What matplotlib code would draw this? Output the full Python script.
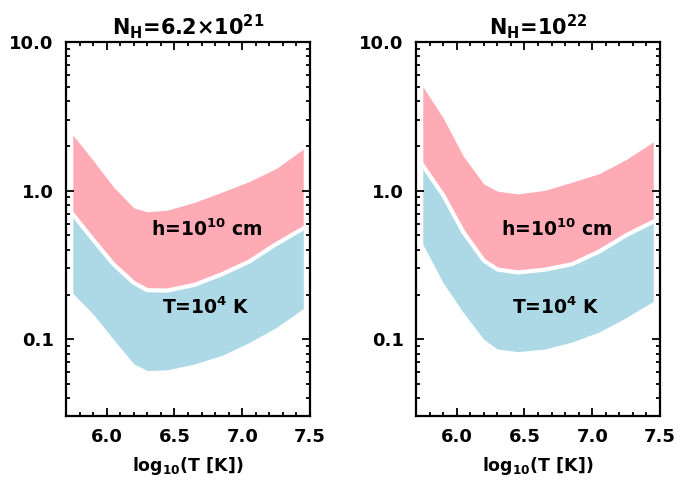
import numpy as np
import matplotlib
matplotlib.use('Agg')
from matplotlib import pyplot as plt
from matplotlib.ticker import MultipleLocator, LogLocator, NullFormatter

plt.rcParams['font.weight'] = 'bold'
plt.rcParams['axes.titleweight'] = 'bold'
plt.rcParams['axes.labelweight'] = 'bold'
plt.rcParams['mathtext.fontset'] = 'custom'
plt.rcParams['mathtext.rm'] = 'DejaVu Sans:bold'
plt.rcParams['mathtext.it'] = 'DejaVu Sans:bold'
plt.rcParams['mathtext.bf'] = 'DejaVu Sans:bold'
plt.rcParams['mathtext.default'] = 'rm'

# common temperature grid, log10(T [K])
logT = [5.75, 5.9, 6.05, 6.2, 6.3, 6.45, 6.65, 6.85, 7.05, 7.25, 7.45]

# N_H = 6.2e21 panel
left_h_top = [2.37, 1.60, 1.06, 0.766, 0.721, 0.740, 0.836, 0.977, 1.15, 1.41, 1.90]
left_mid = [0.692, 0.468, 0.320, 0.240, 0.214, 0.213, 0.233, 0.274, 0.333, 0.437, 0.557]
left_T_bot = [0.204, 0.148, 0.100, 0.0684, 0.0617, 0.0624, 0.0684, 0.078, 0.095, 0.120, 0.161]

# N_H = 1e22 panel
right_h_top = [5.01, 3.09, 1.70, 1.11, 0.993, 0.951, 1.005, 1.14, 1.30, 1.62, 2.13]
right_mid = [1.48, 0.933, 0.525, 0.339, 0.295, 0.282, 0.294, 0.320, 0.389, 0.501, 0.618]
right_T_bot = [0.437, 0.240, 0.151, 0.100, 0.0861, 0.0826, 0.0861, 0.0959, 0.112, 0.140, 0.180]

titles = [r'N$_{\rm H}$=6.2×10$^{21}$', r'N$_{\rm H}$=10$^{22}$']
label_h = r'h=10$^{10}$ cm'
label_T = r'T=10$^4$ K'

pink = '#ffabb6'
blue = '#add8e6'

fig = plt.figure(figsize=(7, 5), dpi=100)
boxes = [[0.0943, 0.168, 0.3486, 0.748], [0.5943, 0.168, 0.3486, 0.748]]
panels = [(left_h_top, left_mid, left_T_bot), (right_h_top, right_mid, right_T_bot)]

for box, (top, mid, bot), title in zip(boxes, panels, titles):
    ax = fig.add_axes(box)
    ax.fill_between(logT, mid, top, color=pink, lw=0)
    ax.fill_between(logT, bot, mid, color=blue, lw=0)
    ax.plot(logT, mid, color='white', lw=3)

    ax.set_yscale('log')
    ax.set_xlim(5.7, 7.5)
    ax.set_ylim(0.0305, 10)
    ax.set_yticks([0.1, 1.0, 10.0])
    ax.set_yticklabels(['0.1', '1.0', '10.0'])
    ax.yaxis.set_minor_locator(LogLocator(base=10, subs=np.arange(2, 10)))
    ax.yaxis.set_minor_formatter(NullFormatter())
    ax.set_xticks([6.0, 6.5, 7.0, 7.5])
    ax.set_xticklabels(['6.0', '6.5', '7.0', '7.5'])
    ax.xaxis.set_minor_locator(MultipleLocator(0.1))

    ax.tick_params(which='both', direction='in', top=True, right=True, width=1.3, labelsize=13)
    ax.tick_params(which='major', length=6, pad=9)
    ax.tick_params(which='minor', length=3)
    for s in ax.spines.values():
        s.set_linewidth(1.6)

    ax.text(6.74, 0.55, label_h, ha='center', va='center', fontsize=13.5)
    ax.text(6.73, 0.165, label_T, ha='center', va='center', fontsize=13.5)
    ax.set_title(title, fontsize=15, pad=5)
    ax.set_xlabel(r'log$_{10}$(T [K])', fontsize=12.5, labelpad=6)

fig.savefig('out.png', dpi=100)
